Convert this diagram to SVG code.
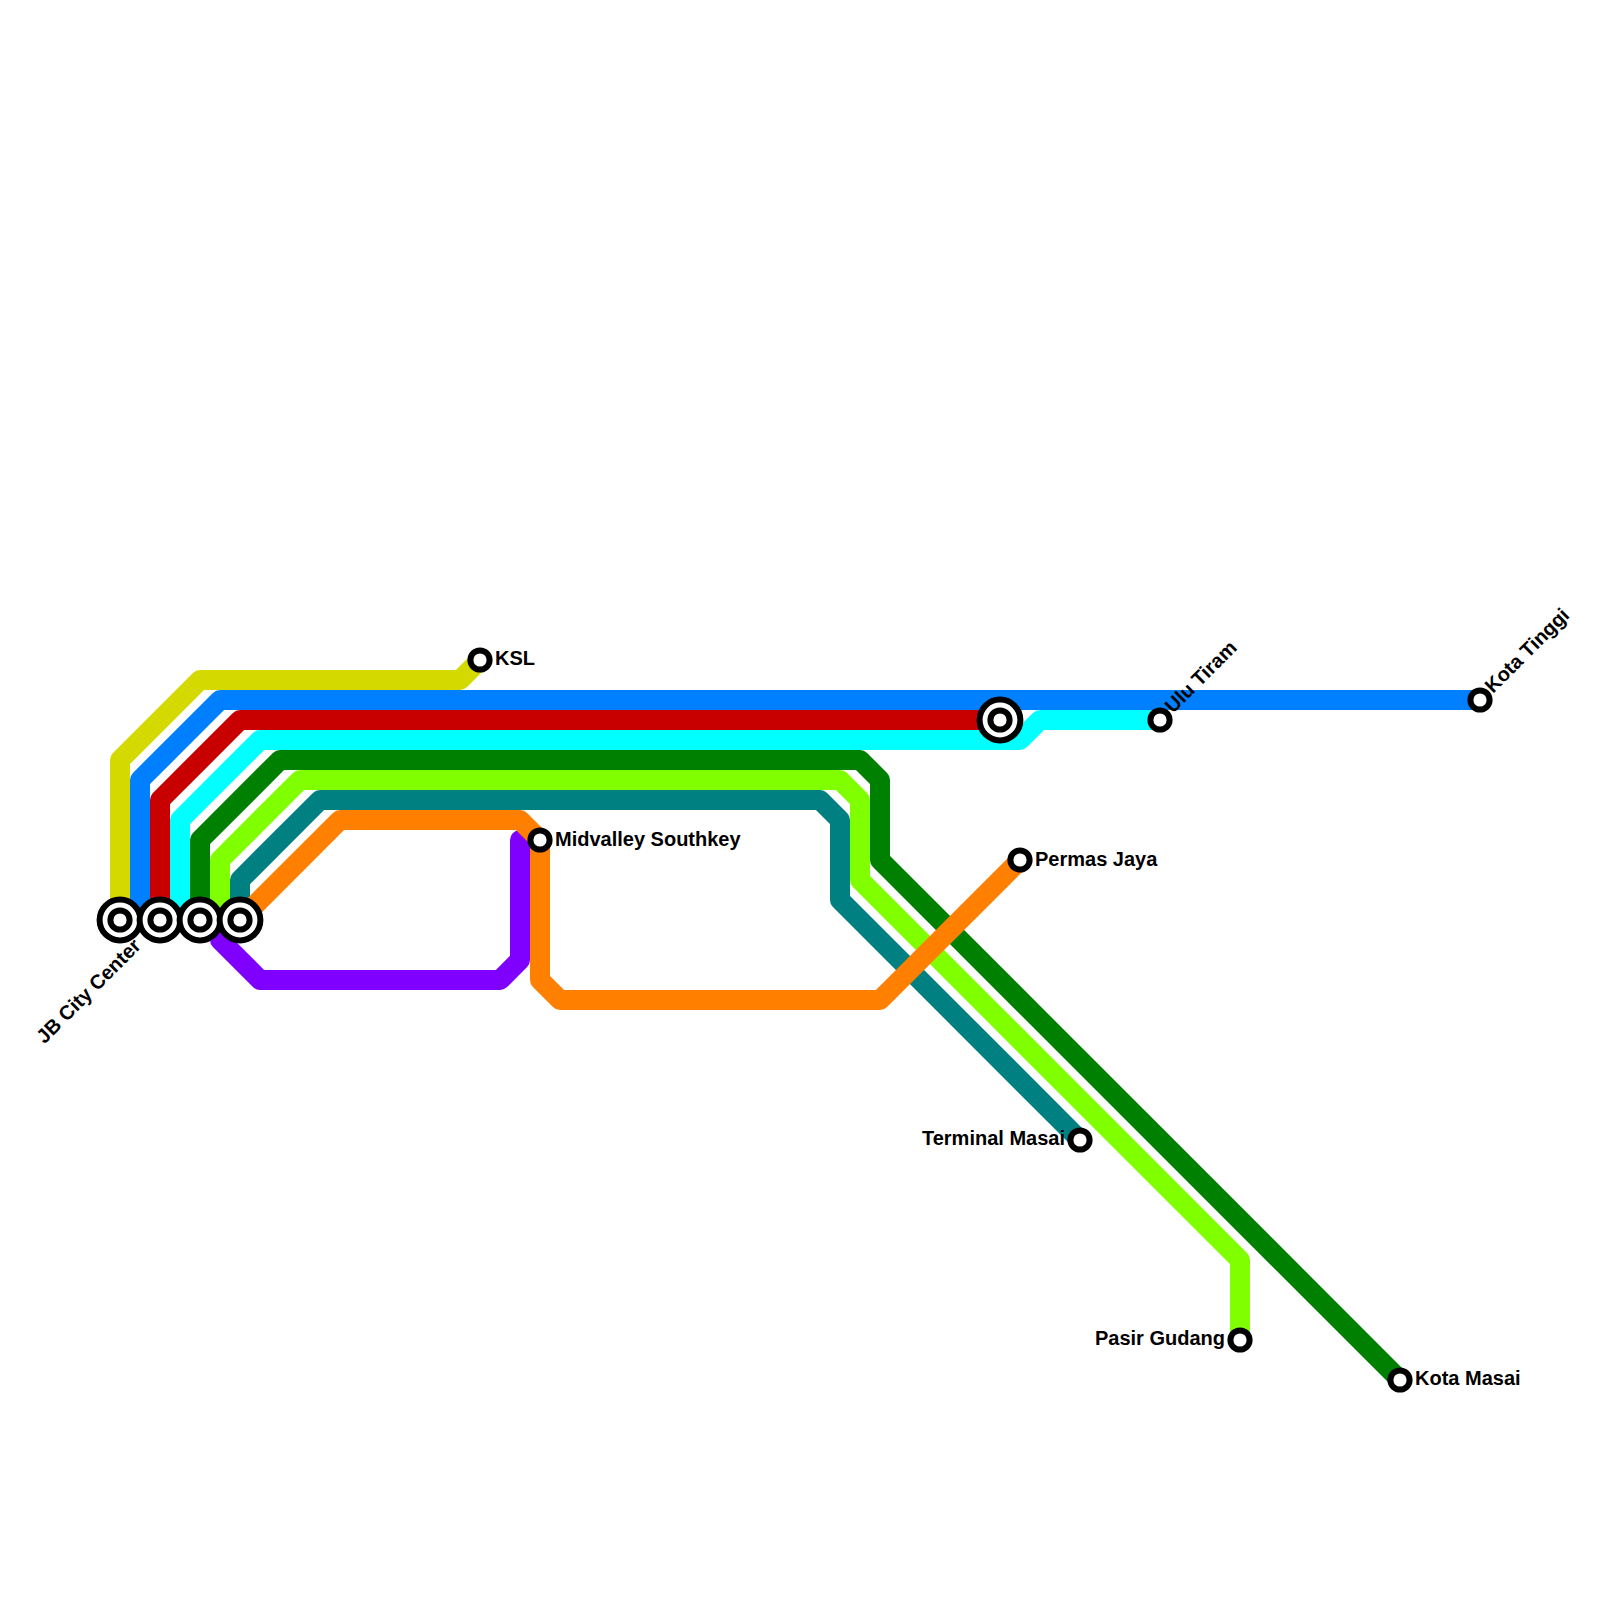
<svg xmlns="http://www.w3.org/2000/svg" width="1600" height="1600" viewBox="0 0 1600 1600">
<style>
.l{fill:none;stroke-width:20;stroke-linejoin:round;stroke-linecap:butt}
.s{fill:#fff;stroke:#000;stroke-width:6}
text{font-family:"Liberation Sans",Arial,sans-serif;font-size:20px;font-weight:700;fill:#000}
.e{text-anchor:end}
</style>
<rect width="1600" height="1600" fill="#fff"/>
<g id="connectors">
<path class="l" stroke="#d4d900" d="M120 920V760L200 680H460L480 660"/>
<path class="l" stroke="#0080ff" d="M140 920V780L220 700H1480"/>
<path class="l" stroke="#c80000" d="M160 920V800L240 720H1000"/>
<path class="l" stroke="#00ffff" d="M180 920V820L260 740H1020L1040 720H1160"/>
<path class="l" stroke="#008000" d="M200 920V840L280 760H860L880 780V860L1400 1380"/>
<path class="l" stroke="#80ff00" d="M220 920V860L300 780H840L860 800V880L1240 1260V1340"/>
<path class="l" stroke="#008080" d="M240 920V880L320 800H820L840 820V900L1080 1140"/>
<path class="l" stroke="#8000ff" d="M240 920L220 940L260 980H500L520 960V840L540 860"/>
<path class="l" stroke="#ff8000" d="M240 920L340 820H520L540 840V980L560 1000H880L1020 860"/>
</g>
<g id="jb-city-center">
<circle class="s" cx="120" cy="920" r="20.4"/><circle class="s" cx="120" cy="920" r="9.6"/>
<circle class="s" cx="160" cy="920" r="20.4"/><circle class="s" cx="160" cy="920" r="9.6"/>
<circle class="s" cx="200" cy="920" r="20.4"/><circle class="s" cx="200" cy="920" r="9.6"/>
<circle class="s" cx="240" cy="920" r="20.4"/><circle class="s" cx="240" cy="920" r="9.6"/>
<text class="e" transform="translate(142 947) rotate(-45)">JB City Center</text>
</g>
<g id="interchange"><circle class="s" cx="1000" cy="720" r="20.4"/><circle class="s" cx="1000" cy="720" r="9.6"/></g>
<g id="ksl"><circle class="s" cx="480" cy="660" r="9.6"/><text x="495" y="665">KSL</text></g>
<g id="midvalley"><circle class="s" cx="540" cy="840" r="9.6"/><text x="555" y="846">Midvalley Southkey</text></g>
<g id="permas"><circle class="s" cx="1020" cy="860" r="9.6"/><text x="1035" y="866">Permas Jaya</text></g>
<g id="ulu"><circle class="s" cx="1160" cy="720" r="9.6"/><text transform="translate(1173 714) rotate(-45)">Ulu Tiram</text></g>
<g id="tinggi"><circle class="s" cx="1480" cy="700" r="9.6"/><text transform="translate(1493 694) rotate(-45)">Kota Tinggi</text></g>
<g id="terminal"><circle class="s" cx="1080" cy="1140" r="9.6"/><text class="e" x="1065" y="1145">Terminal Masai</text></g>
<g id="pasir"><circle class="s" cx="1240" cy="1340" r="9.6"/><text class="e" x="1225" y="1345">Pasir Gudang</text></g>
<g id="masai"><circle class="s" cx="1400" cy="1380" r="9.6"/><text x="1415" y="1385">Kota Masai</text></g>
</svg>
